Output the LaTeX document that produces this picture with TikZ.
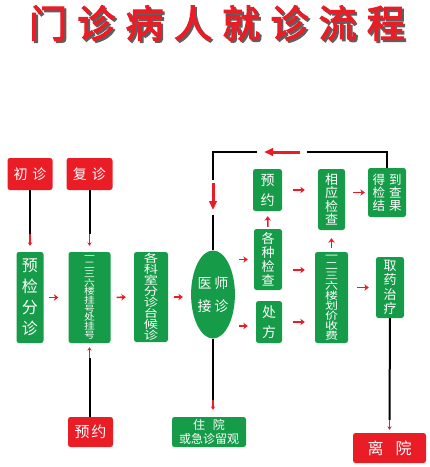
\documentclass[tikz,border=0pt]{standalone}
\usepackage{fontspec}
\usepackage{tikz}
\usetikzlibrary{shapes.geometric, arrows.meta, positioning, calc}
\newfontfamily\cjk{Noto Sans CJK SC}
\newfontfamily\cjkwide[FakeStretch=1.3]{Noto Sans CJK SC}
\newfontfamily\cjknarrow[FakeStretch=1.2]{Noto Sans CJK SC}
\newfontfamily\cjktitle[FakeBold=3, LetterSpace=27]{Noto Sans CJK SC}
\definecolor{flowgreen}{RGB}{22, 155, 72}
\definecolor{flowred}{RGB}{234, 28, 38}
\definecolor{shadowgray}{RGB}{95, 95, 95}

\begin{document}
\begin{tikzpicture}[x=1pt, y=-1pt,
    >=Stealth,
    gbox/.style={fill=flowgreen, text=white, rounded corners=2.5pt, inner sep=0pt, align=center},
    rbox/.style={fill=flowred, text=white, rounded corners=2.5pt, inner sep=0pt, align=center},
    rarrow/.style={-{Stealth[length=4.5pt, width=6.5pt, inset=1.5pt]}, line width=1.6pt, flowred},
    bline/.style={line width=2pt, black},
    rtip/.style={-{Stealth[length=3.5pt, width=4.5pt]}, line width=1.2pt, flowred},
    bigarrow/.style={-{Triangle[length=9pt, width=7.5pt]}, line width=3pt, flowred}
]
    \useasboundingbox[fill=white] (0,0) rectangle (430,467);

    \node[font=\cjktitle\fontsize{38}{38}\selectfont, text=shadowgray] (titleshadow) at (219,25) {门诊病人就诊流程};
    \node[font=\cjktitle\fontsize{38}{38}\selectfont, text=flowred] (title) at (217,23) {门诊病人就诊流程};

    \node[rbox, minimum width=45, minimum height=32, font=\cjk\fontsize{14}{16}\selectfont] (cz) at (30,174) {初\hspace{5pt}诊};
    \node[rbox, minimum width=46, minimum height=32, font=\cjk\fontsize{14}{16}\selectfont] (fz) at (89.5,174) {复\hspace{5pt}诊};

    \node[gbox, minimum width=27, minimum height=91, font=\cjk\fontsize{16}{21}\selectfont] (yj) at (30,297.5) {预\\检\\分\\诊};
    \node[gbox, minimum width=42, minimum height=91, font=\cjknarrow\fontsize{9}{8.7}\selectfont] (gh) at (89.5,297.5) {一\\二\\三\\六\\楼\\挂\\号\\处\\挂\\号};
    \node[gbox, minimum width=34, minimum height=90, font=\cjkwide\fontsize{11}{11}\selectfont] (hz) at (151,297) {各\\科\\室\\分\\诊\\台\\候\\诊};
    \node[gbox, ellipse, minimum width=40, minimum height=88, font=\cjk\fontsize{14}{23}\selectfont] (ys) at (213,294.5) {医\hspace{3pt}师\\接\hspace{3pt}诊};

    \node[gbox, minimum width=29, minimum height=42, font=\cjk\fontsize{14}{20}\selectfont] (yy) at (267.5,190) {预\\约};
    \node[gbox, minimum width=28, minimum height=61, font=\cjk\fontsize{13}{14}\selectfont] (gz) at (268,259.5) {各\\种\\检\\查};
    \node[gbox, minimum width=26, minimum height=42, font=\cjk\fontsize{14}{20}\selectfont] (cf) at (269,322) {处\\方};
    \node[gbox, minimum width=27, minimum height=61, font=\cjk\fontsize{13}{13.5}\selectfont] (xy) at (331.5,199.5) {相\\应\\检\\查};
    \node[gbox, minimum width=33, minimum height=91, font=\cjkwide\fontsize{10}{10}\selectfont] (hj) at (331.5,297.5) {一\\二\\三\\六\\楼\\划\\价\\收\\费};
    \node[gbox, minimum width=38, minimum height=49, font=\cjk\fontsize{12.5}{12.8}\selectfont] (dd) at (387,192.5) {得\hspace{4pt}到\\检\hspace{4pt}查\\结\hspace{4pt}果};
    \node[gbox, minimum width=28, minimum height=61, font=\cjk\fontsize{13}{14.5}\selectfont] (qy) at (390,287.5) {取\\药\\治\\疗};

    \node[rbox, minimum width=45, minimum height=30, font=\cjk\fontsize{15}{17}\selectfont] (yyr) at (90.5,432) {预\hspace{2pt}约};
    \node[gbox, minimum width=74, minimum height=30, font=\cjk\fontsize{12}{14.5}\selectfont] (zy) at (209,432) {住\hspace{8pt}院\\或急诊留观};
    \node[rbox, minimum width=73, minimum height=30, font=\cjk\fontsize{16}{18}\selectfont] (ly) at (389.5,448) {离\hspace{12pt}院};

    % short red steps
    \draw[rarrow, shorten <=5pt, shorten >=10pt] (yj.east) -- (gh.west);
    \draw[rarrow, shorten <=6pt, shorten >=8pt] (gh.east) -- (hz.west);
    \draw[rarrow, shorten <=6pt, shorten >=8pt] (hz.east) -- (hz.east -| ys.west);
    \draw[rarrow, shorten <=4pt, shorten >=6pt] (gz.west -| ys.east) -- (gz.west);
    \draw[rarrow, shorten <=4pt, shorten >=8pt] ([yshift=-4pt]cf.west -| ys.east) -- ([yshift=-4pt]cf.west);
    \draw[rarrow, shorten <=2pt, shorten >=5pt] (gz.north) -- (yy.south);
    \draw[rarrow, shorten <=11pt, shorten >=13pt] (yy.east) -- (yy.east -| xy.west);
    \draw[rarrow, shorten <=8pt, shorten >=3pt] (dd.west -| xy.east) -- (dd.west);
    \draw[rarrow, shorten <=11pt, shorten >=10pt] ([yshift=-10.5pt]gz.east) -- ([yshift=-10.5pt]gz.east -| hj.west);
    \draw[rarrow, shorten <=11pt, shorten >=10pt] (cf.east) -- (cf.east -| hj.west);
    \draw[rarrow, shorten <=4pt, shorten >=8pt] (hj.north) -- (xy.south);
    \draw[rarrow, shorten <=9pt, shorten >=7pt] (qy.west -| hj.east) -- (qy.west);

    % long black feeds
    \draw[bline] (cz.south) -- ([yshift=18pt]yj.north);
    \draw[rtip] ([yshift=18pt]yj.north) -- ([yshift=6pt]yj.north);
    \draw[bline] (fz.south) -- ([yshift=18pt]gh.north);
    \draw[rtip] ([yshift=18pt]gh.north) -- ([yshift=6pt]gh.north);
    \draw[bline] (gh.south |- yyr.north) -- ([yshift=-15pt]gh.south);
    \draw[rtip] ([yshift=-15pt]gh.south) -- ([yshift=-4pt]gh.south);
    \coordinate (zytop) at (ys.south |- zy.north);
    \draw[bline] (ys.south) -- ([yshift=17pt]zytop);
    \draw[rtip] ([yshift=17pt]zytop) -- ([yshift=7pt]zytop);
    \draw[bline] (qy.south) -- ([yshift=13pt]ly.north);
    \draw[rtip] ([yshift=13pt]ly.north) -- ([yshift=3pt]ly.north);

    % loop back to the doctor
    \coordinate (loopr) at (dd.north |- 0,152);
    \coordinate (loopl) at (ys.north |- 0,152);
    \draw[bline] (dd.north) -- (loopr) -- ([xshift=-80pt]loopr);
    \draw[bigarrow] ([xshift=-87pt]loopr) -- ([xshift=-123pt]loopr);
    \draw[bline] ([xshift=-130pt]loopr) -- (loopl) -- ([yshift=-28pt]loopl);
    \draw[bigarrow] ([yshift=-31pt]loopl) -- ([yshift=-58pt]loopl);
    \draw[bline] ([yshift=-63pt]loopl) -- (ys.north);
\end{tikzpicture}
\end{document}
